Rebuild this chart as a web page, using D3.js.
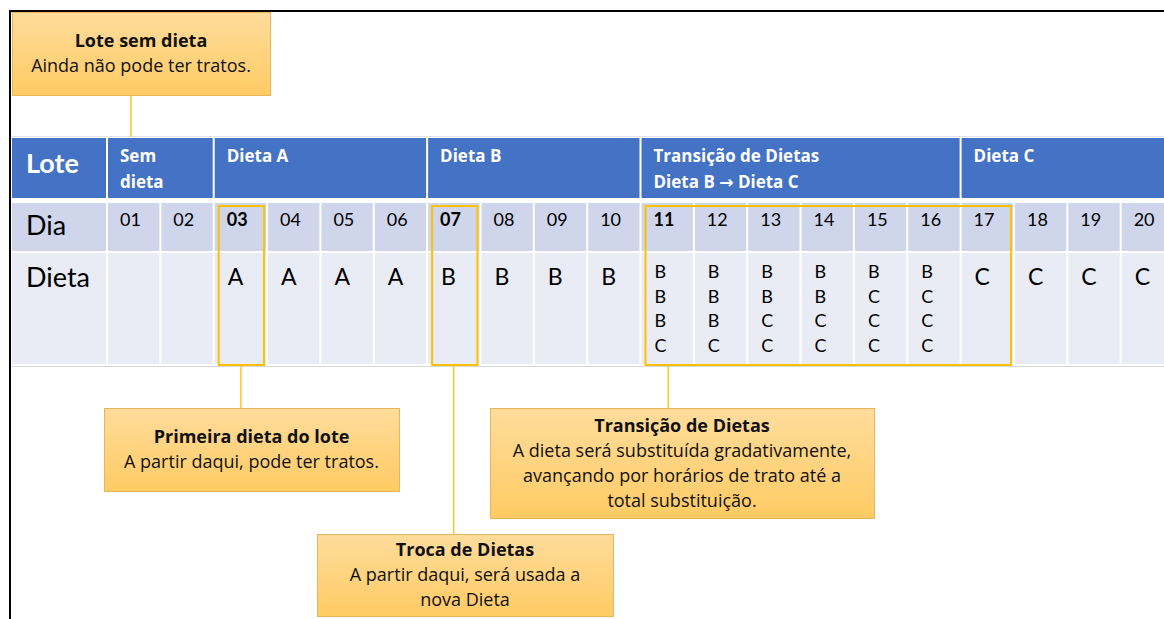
<!DOCTYPE html>
<html>
<head>
<meta charset="utf-8">
<script src="https://cdn.jsdelivr.net/npm/d3@7"></script>
<style>
html,body{margin:0;padding:0;background:#fff;}
svg{display:block;font-family:Lato,"Noto Sans",sans-serif;}
.os{font-family:"Open Sans","Noto Sans",sans-serif;}
</style>
</head>
<body>
<svg id="chart" width="1164" height="619"></svg>
<script>
// ---- data ----
const days = ["01","02","03","04","05","06","07","08","09","10","11","12","13","14","15","16","17","18","19","20"];
const boldDays = ["03","07","11"];
const dietas = ["","","A","A","A","A","B","B","B","B","BBBC","BBBC","BBCC","BBCC","BCCC","BCCC","C","C","C","C"];
const groupLabels = [["Sem","dieta"],["Dieta A"],["Dieta B"],["Transição de Dietas","Dieta B \u2192 Dieta C"],["Dieta C"]];
const groupStart = ["01","03","07","11","17"];
const groupEnd   = ["02","06","10","16","20"];
const rowLabels = ["Lote","Dia","Dieta"];
const highlightStart = ["03","07","11"];
const highlightEnd   = ["03","07","17"];
const calloutTitles = ["Lote sem dieta","Primeira dieta do lote","Transição de Dietas","Troca de Dietas"];
const calloutBodies = [
  ["Ainda não pode ter tratos."],
  ["A partir daqui, pode ter tratos."],
  ["A dieta será substituída gradativamente,","avançando por horários de trato até a","total substituição."],
  ["A partir daqui, será usada a","nova Dieta"]
];

// ---- layout ----
const svg = d3.select("#chart");
const x = d3.scaleBand().domain(days).range([108, 1175]);
const bw = x.bandwidth();
const rows = {head:[138,198], dia:[203,251], dieta:[253,364]};
const BLUE = "#4472C4", DIA = "#CFD5EA", DIETA = "#E9EBF5", GOLD = "#FFC000";

const defs = svg.append("defs");
const grad = defs.append("linearGradient").attr("id","cg").attr("x1",0).attr("y1",0).attr("x2",0).attr("y2",1);
grad.append("stop").attr("offset","0%").attr("stop-color","#FFDC9C");
grad.append("stop").attr("offset","100%").attr("stop-color","#FFCB63");

// table outline lines
svg.append("line").attr("x1",12).attr("x2",1164).attr("y1",136.5).attr("y2",136.5).attr("stroke","#e2e2e2");
svg.append("line").attr("x1",12).attr("x2",1164).attr("y1",366.5).attr("y2",366.5).attr("stroke","#d8d8d8");

// row label column
svg.append("rect").attr("x",12).attr("y",rows.head[0]).attr("width",94).attr("height",rows.head[1]-rows.head[0]).attr("fill",BLUE);
svg.append("rect").attr("x",12).attr("y",rows.dia[0]).attr("width",94).attr("height",rows.dia[1]-rows.dia[0]).attr("fill",DIA);
svg.append("rect").attr("x",12).attr("y",rows.dieta[0]).attr("width",94).attr("height",rows.dieta[1]-rows.dieta[0]).attr("fill",DIETA);
svg.append("text").attr("x",26).attr("y",173).attr("fill","#fff").attr("font-weight","bold").attr("font-size",27).text(rowLabels[0]);
svg.append("text").attr("x",26).attr("y",235).attr("fill","#000").attr("font-size",27).text(rowLabels[1]);
svg.append("text").attr("x",26).attr("y",287).attr("fill","#000").attr("font-size",27).text(rowLabels[2]);

// header groups
const groups = groupLabels.map((l,i)=>({label:l, s:groupStart[i], e:groupEnd[i]}));
const gg = svg.selectAll("g.grp").data(groups).join("g").attr("class","grp");
gg.append("rect")
  .attr("x",d=>x(d.s)).attr("y",rows.head[0])
  .attr("width",d=>x(d.e)+bw-x(d.s)-2).attr("height",rows.head[1]-rows.head[0])
  .attr("fill",BLUE);
gg.each(function(d){
  const t = d3.select(this);
  d.label.forEach((ln,j)=>{
    const tx = t.append("text").attr("class","os").attr("x",x(d.s)+12).attr("y",162+j*26)
      .attr("fill","#fff").attr("font-weight","bold").attr("font-size",17);
    const parts = ln.split("\u2192");
    parts.forEach((p,k)=>{
      if(k>0) tx.append("tspan").attr("font-family","DejaVu Sans").attr("font-size",17).text("\u2192");
      tx.append("tspan").text(p);
    });
  });
});

// day cells
const cells = days.map((d,i)=>({day:d, dieta:dietas[i]}));
svg.selectAll("rect.dia").data(cells).join("rect").attr("class","dia")
  .attr("x",d=>x(d.day)).attr("y",rows.dia[0]).attr("width",bw-2).attr("height",rows.dia[1]-rows.dia[0]).attr("fill",DIA);
svg.selectAll("rect.dieta").data(cells).join("rect").attr("class","dieta")
  .attr("x",d=>x(d.day)).attr("y",rows.dieta[0]).attr("width",bw-2).attr("height",rows.dieta[1]-rows.dieta[0]).attr("fill",DIETA);
svg.selectAll("text.day").data(cells).join("text").attr("class","day")
  .attr("x",d=>x(d.day)+12).attr("y",226).attr("font-size",18)
  .attr("font-weight",d=>boldDays.includes(d.day)?"bold":"normal").text(d=>d.day);
cells.forEach(c=>{
  if(c.dieta.length===1){
    svg.append("text").attr("x",x(c.day)+13).attr("y",285).attr("font-size",23).text(c.dieta);
  } else if(c.dieta.length>1){
    c.dieta.split("").forEach((ch,j)=>{
      svg.append("text").attr("x",x(c.day)+13).attr("y",278+j*24.7).attr("font-size",18).text(ch);
    });
  }
});

// highlight boxes
const hl = highlightStart.map((s,i)=>({s, e:highlightEnd[i]}));
svg.selectAll("rect.hl").data(hl).join("rect").attr("class","hl")
  .attr("x",d=>x(d.s)+4).attr("y",206)
  .attr("width",d=>x(d.e)+bw-x(d.s)-8).attr("height",159)
  .attr("fill","none").attr("stroke",GOLD).attr("stroke-width",2);

// connectors
const conn = [
  {x:131, y1:92, y2:137},
  {x:x("03")+bw/2-0.5, y1:366, y2:409},
  {x:x("07")+bw/2-1, y1:366, y2:535},
  {x:x("11")+bw/2, y1:366, y2:409}
];
svg.selectAll("line.conn").data(conn).join("line").attr("class","conn")
  .attr("x1",d=>d.x).attr("x2",d=>d.x).attr("y1",d=>d.y1).attr("y2",d=>d.y2)
  .attr("stroke",GOLD).attr("stroke-width",1.3);

// callouts
const boxes = [
  {x0:12,y0:12,x1:270,y1:95, base:[47,72]},
  {x0:104,y0:408,x1:399,y1:491, base:[443,468]},
  {x0:490,y0:408,x1:874,y1:518, base:[432,457,482,507]},
  {x0:317,y0:534,x1:613,y1:616, base:[556,581,606]}
];
boxes.forEach((b,i)=>{
  const g = svg.append("g");
  g.append("rect").attr("x",b.x0+0.5).attr("y",b.y0+0.5).attr("width",b.x1-b.x0).attr("height",b.y1-b.y0)
    .attr("fill","url(#cg)").attr("stroke","#E9B55A").attr("stroke-width",1);
  const cx = (b.x0+b.x1)/2;
  const lines = [calloutTitles[i]].concat(calloutBodies[i]);
  lines.forEach((ln,j)=>{
    g.append("text").attr("class","os").attr("x",cx).attr("y",b.base[j]).attr("text-anchor","middle")
      .attr("font-size",18).attr("fill","#111")
      .attr("font-weight",j===0?"bold":"normal").text(ln);
  });
});

svg.append("path").attr("d","M10,619 V11 H1164").attr("fill","none").attr("stroke","#000").attr("stroke-width",2);
</script>
</body>
</html>
